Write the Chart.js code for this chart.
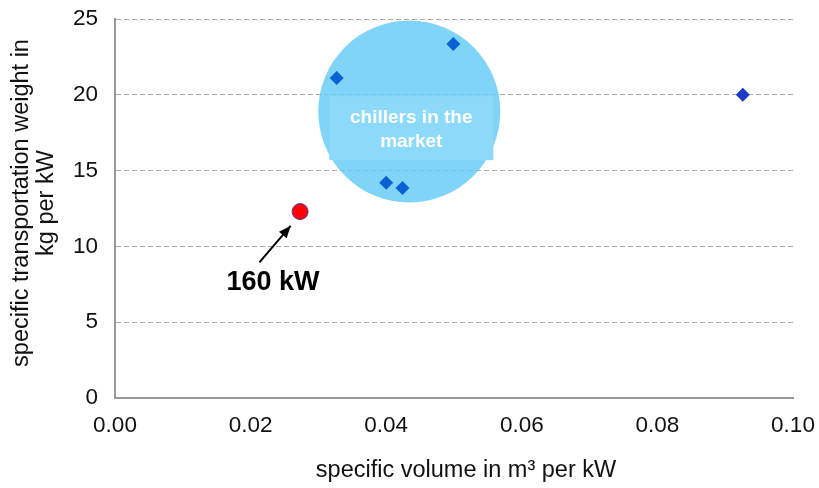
<!DOCTYPE html>
<html>
<head>
<meta charset="utf-8">
<script src="https://cdn.jsdelivr.net/npm/chart.js@4"></script>
<style>
  html, body { margin: 0; padding: 0; background: #fff; }
  #wrap { width: 819px; height: 488px; }
</style>
</head>
<body>
<div id="wrap"><canvas id="myChart" width="819" height="488"></canvas></div>
<script>
// chillers in the market (specific volume m3/kW, specific weight kg/kW)
var marketX = [0.0327, 0.0499, 0.0400, 0.0424, 0.0926];
var marketY = [21.1, 23.35, 14.2, 13.85, 20.0];
// our 160 kW unit
var unitX = [0.0273];
var unitY = [12.3];
// bubble marking the market cluster
var bubbleX = [0.0434];
var bubbleY = [18.9];

var xTicks = [0, 0.02, 0.04, 0.06, 0.08, 0.10];
var yTicks = [0, 5, 10, 15, 20, 25];

var xTitle = "specific volume in m\u00b3 per kW";
var yTitle = ["specific transportation weight in", "kg per kW"];

var FONT = "'Liberation Sans', Arial, sans-serif";

function toPoints(xs, ys) {
    var pts = [];
    for (var i = 0; i < xs.length; i++) pts.push({x: xs[i], y: ys[i]});
    return pts;
}

// axis titles, label box, arrow and "160 kW" text
var notes = {
    id: "notes",
    afterDatasetsDraw: function(chart) {
        var ctx = chart.ctx;
        var xs = chart.scales.x, ys = chart.scales.y;
        ctx.save();

        // text box inside the bubble
        var bx = xs.getPixelForValue(0.0437), by = ys.getPixelForValue(17.8);
        ctx.fillStyle = "rgba(140,217,249,1)";
        ctx.fillRect(bx - 82, by - 32, 164, 64);
        ctx.fillStyle = "#fff";
        ctx.font = "bold 19px " + FONT;
        ctx.textAlign = "center";
        ctx.textBaseline = "middle";
        ctx.fillText("chillers in the", bx, by - 10);
        ctx.fillText("market", bx, by + 14);

        // arrow to the 160 kW point
        var x1 = xs.getPixelForValue(0.0213), y1 = ys.getPixelForValue(8.95);
        var x2 = xs.getPixelForValue(0.0259), y2 = ys.getPixelForValue(11.35);
        ctx.strokeStyle = "#000";
        ctx.fillStyle = "#000";
        ctx.lineWidth = 2;
        ctx.beginPath();
        ctx.moveTo(x1, y1);
        ctx.lineTo(x2, y2);
        ctx.stroke();
        var a = Math.atan2(y2 - y1, x2 - x1);
        ctx.beginPath();
        ctx.moveTo(x2, y2);
        ctx.lineTo(x2 - 13 * Math.cos(a - 0.4), y2 - 13 * Math.sin(a - 0.4));
        ctx.lineTo(x2 - 13 * Math.cos(a + 0.4), y2 - 13 * Math.sin(a + 0.4));
        ctx.closePath();
        ctx.fill();

        ctx.font = "bold 27px " + FONT;
        ctx.fillText("160 kW", xs.getPixelForValue(0.0233), ys.getPixelForValue(7.6));

        // axis titles
        ctx.fillStyle = "#111";
        ctx.font = "23.5px " + FONT;
        ctx.fillText(xTitle, 466, 471);
        ctx.translate(0, 203);
        ctx.rotate(-Math.PI / 2);
        ctx.fillText(yTitle[0], 0, 22);
        ctx.fillText(yTitle[1], 0, 47);
        ctx.restore();
    }
};

new Chart("myChart", {
    type: "scatter",
    data: {
        datasets: [{
            label: "chillers in the market",
            data: toPoints(marketX, marketY),
            pointStyle: "rectRot",
            pointRadius: 7,
            pointHoverRadius: 7,
            pointBackgroundColor: ["#0a62d2", "#0a62d2", "#0a62d2", "#0a62d2", "#1a3acb"],
            pointBorderWidth: 0,
            order: 1
        }, {
            label: "160 kW",
            data: toPoints(unitX, unitY),
            pointStyle: "circle",
            pointRadius: 8,
            pointHoverRadius: 8,
            pointBackgroundColor: "#ff0000",
            pointBorderColor: "#5a3a9a",
            pointBorderWidth: 1,
            order: 1
        }, {
            type: "bubble",
            label: "market",
            data: [{x: bubbleX[0], y: bubbleY[0], r: 91}],
            backgroundColor: "rgba(95,201,245,0.8)",
            borderWidth: 0,
            clip: false,
            order: 2
        }]
    },
    options: {
        responsive: false,
        animation: false,
        events: [],
        layout: { autoPadding: false, padding: { top: 19, right: 26, left: 0, bottom: 0 } },
        plugins: { legend: { display: false }, tooltip: { enabled: false } },
        scales: {
            x: {
                type: "linear",
                min: 0, max: 0.1,
                afterBuildTicks: function(s) { s.ticks = xTicks.map(function(v) { return {value: v}; }); },
                afterFit: function(s) { s.height = 90; s.paddingLeft = 0; s.paddingRight = 0; },
                grid: { display: false, drawTicks: false },
                border: { color: "#999", width: 2 },
                ticks: {
                    color: "#111",
                    font: { family: FONT, size: 22.5 },
                    padding: 14,
                    maxRotation: 0,
                    callback: function(v) { return Number(v).toFixed(2); }
                }
            },
            y: {
                min: 0, max: 25,
                afterBuildTicks: function(s) { s.ticks = yTicks.map(function(v) { return {value: v}; }); },
                afterFit: function(s) { s.width = 115; s.paddingTop = 0; s.paddingBottom = 0; },
                grid: { color: "#aaa", lineWidth: 1, drawTicks: false },
                border: { color: "#999", width: 2, dash: [5, 3] },
                ticks: {
                    color: "#111",
                    font: { family: FONT, size: 22.5 },
                    padding: 17
                }
            }
        }
    },
    plugins: [notes]
});
</script>
</body>
</html>
